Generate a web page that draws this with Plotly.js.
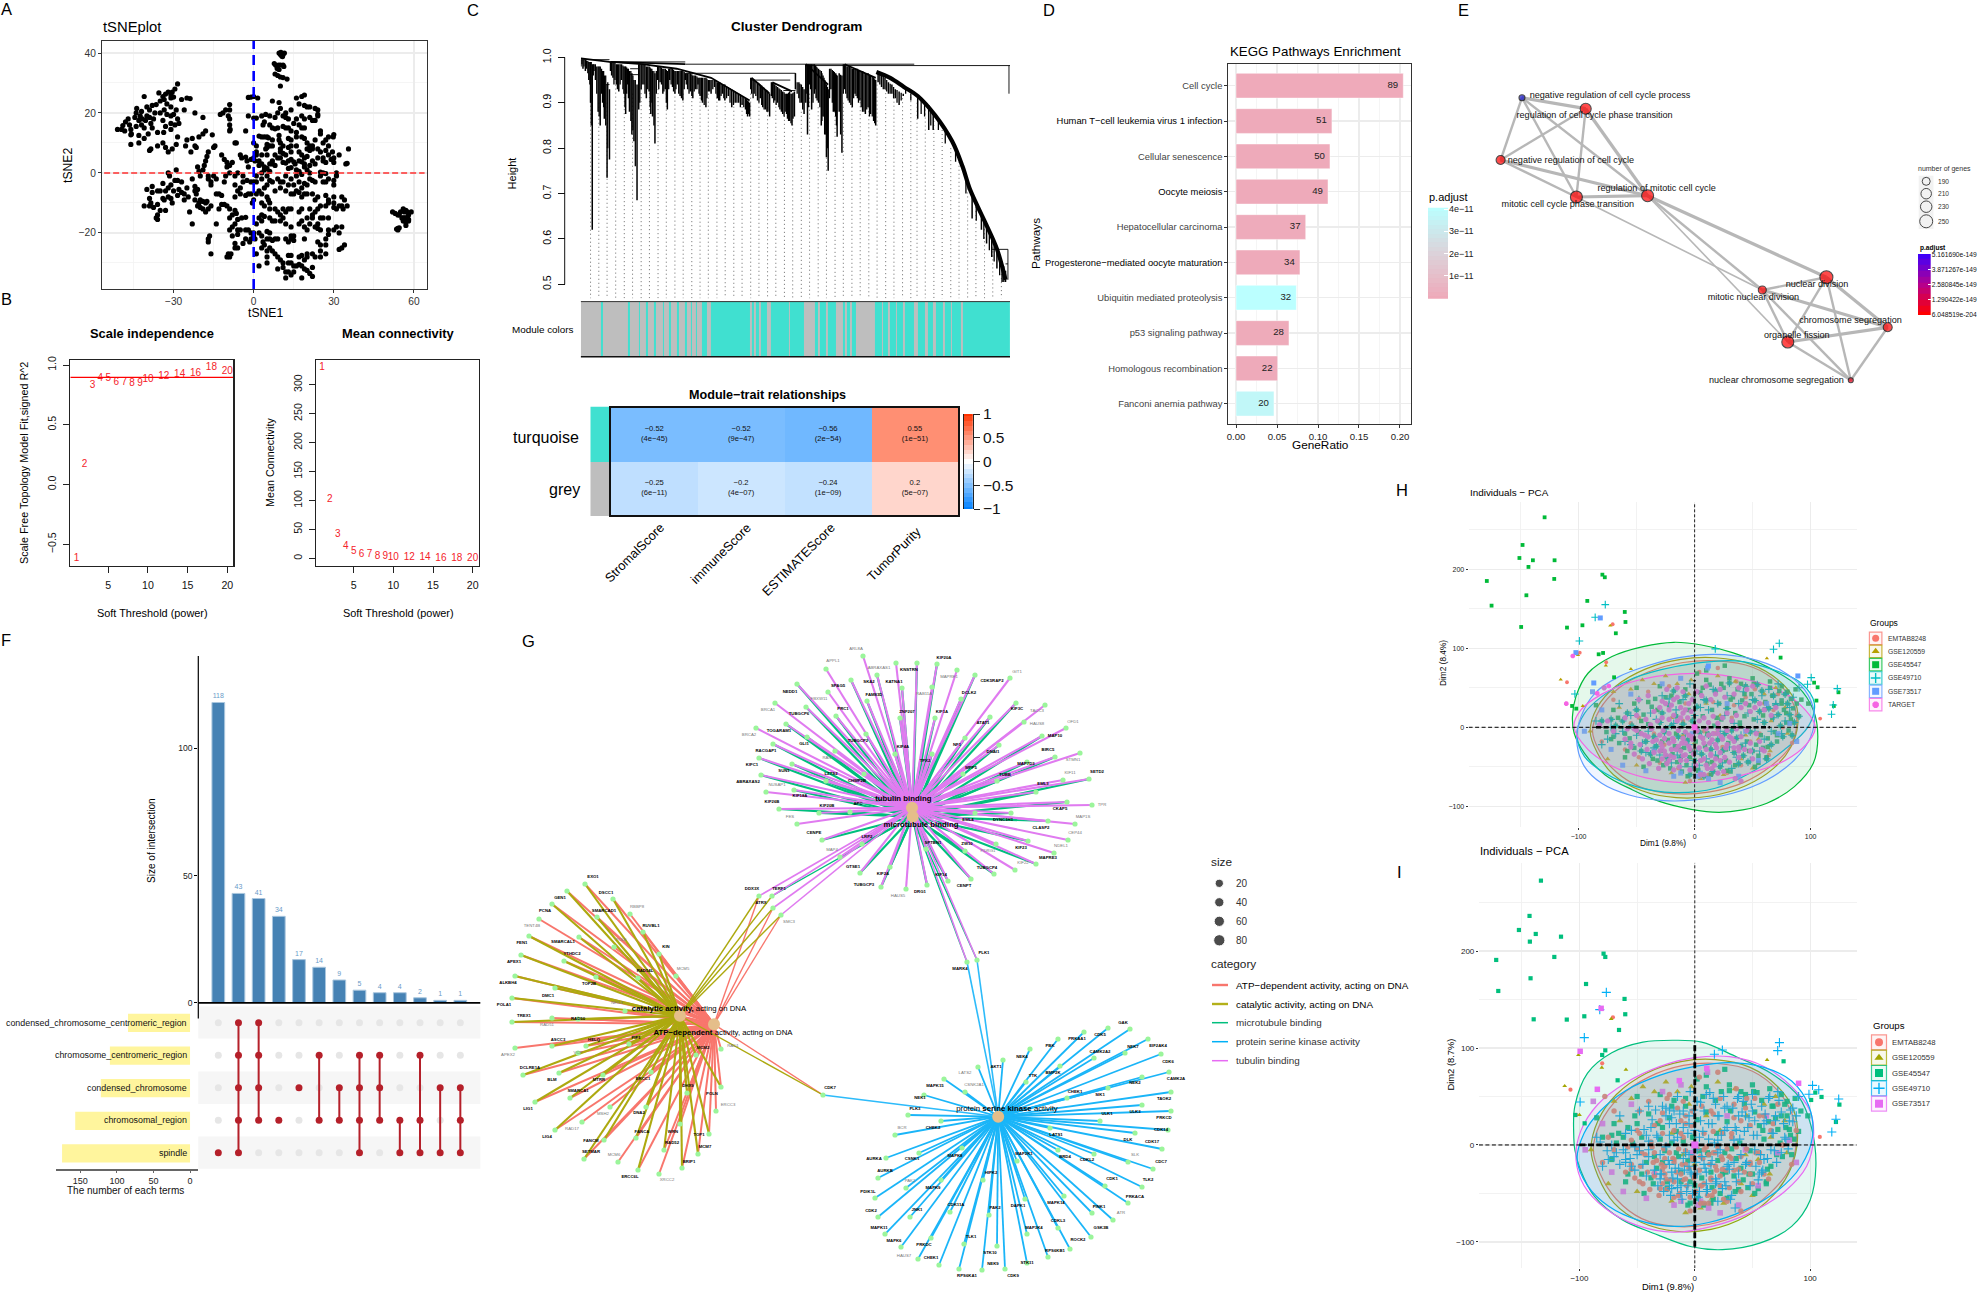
<!DOCTYPE html>
<html><head><meta charset="utf-8">
<script src="https://cdn.plot.ly/plotly-3.0.1.min.js"></script>
<style>html,body{margin:0;padding:0;background:#fff}#c{width:1980px;height:1292px}</style></head>
<body><div id="c"></div>
<script>
// ---------- Panel A: tSNE (x,y pairs)
const tsnePoints=[9.5,40,10,39.5,10.5,39,11,39.5,11.5,40,10.2,40.2,10.8,38.8,7.7,36.5,8.2,36,8.8,35.5,9.3,36,10,36,11,36,11.3,35.5,8.8,34.8,9.5,34.5,8,33,9,32.5,10,32,11,31.8,12.5,31.3,10,29,
-51,14.5,-49.5,14.5,-49,15.8,-48,17,-47,18,-48.3,14,-46.5,16,-46,14.5,-45.8,13,-44,15.5,-44.5,18.5,-44,20,-43.8,21.5,-43,17.5,-42.5,19,-42,20.5,-41.7,18,-42,16,-41,15,-40.5,17.5,-40,19,-40,22,-39,21,-39,18.5,-38.5,16.5,-38,15,-37.5,18,-37,20,-41,25.5,-38,22.5,-36.5,22.8,-35,24,-35.5,26.7,-34,25.5,-33.5,24.5,-33,26.3,-32.5,23,-32,27,-31,26,-31,25,-30.5,27,-30,25.3,-29.5,28,-28.5,29.7,-31,22,-33.5,21,-35,20,-34,17.5,-32.5,19.5,-31,19,-30,19.5,-29,21,-33,15.5,-31,14.5,-31,16.5,-28.5,18,-29.5,16,-28,16.5,-27,24.5,-25,25,-23.8,24.8,-26,21,-22,20,-19,18.5,-36,13.5,-33.7,13.5,-39.5,13,-43,12.5,-46,12.7,-43,10,-46,9.5,-36,9,-34,10,-41,11.5,-33,8.5,-32,7,-30.5,8,-29,9.5,-28.5,12,-25.5,9,-23.5,7,-25,11,-23,11.5,-22,9,-21.5,8.5,-20.5,12,-19,13,-18,14,-15.5,12.7,-38.5,8,-39,7.5,
-12.5,19.5,-11.5,20,-10.5,21,-9,21,-9,22.8,-9.5,19,-9,18,-9,16,-8.8,14.5,-9,14,-7,10,-6.5,10,-14.5,9,-15,8.5,-17,7,-17.5,5.5,-18,4,-18.5,2.5,-19,1,-21,2,-20.5,.5,-20,-1,-12,6,-11,4.5,-10,3.5,-9,2.5,-8,3.5,-10,2,-9,0,-10.5,-1,-5,6,-4.5,5,-3,5.3,-2.5,4,-2,2,-6,0,-7,-1,-4,-1,
-40,-5.5,-38,-4.5,-38,-6.5,-36,-6,-35,-6,-33,-6,-34,-3.5,-32,-5,-31,-4,-30,-6,-29.5,-2.5,-28.5,-2.5,-28,-5.5,-27,-3,-27,-6.5,-26,-7,-25,-5,-24.5,-8,-31.5,-1,-32,0,-32,-8,-33.5,-9,-34,-8.5,-31,-8.5,-30.5,-10,-28.5,-7.5,-26,-9,-39,-8.5,-38.5,-10,-39,-11,-37.5,-11.5,-41,-11,-36,-10.5,-35,-12.5,-36,-14,-36.5,-15,-36,-15.5,-33,-12.5,-24,-13,-23,-17,-29,1,-23,-2,-22,-4.5,-21,-5.5,-22,-6,-21.5,-7,-20.5,-10,-22,-9,-21,-11,-20,-11.5,-20,-9,-19,-9.5,-19,-12,-18,-10,-18,-13,-17.5,-9.5,-17,-12,-16,-11,-17,-2,-16,-3,-17,-1,-16,-4,-15,-1,-14,-2,-14,-7,-13,-7,-12,-7.5,-13,-12,-12,-10.5,-11,-10.5,-10,-11,-9,-12,-8,-14,-7,-12.5,-6.5,-13.5,-6,-15.5,-4.5,-15,-3,-14.8,-11,-3,-7,-4,-6,-6,-7,-8,-5,-5,-5,-7,-4,-3,-3,-7.5,-2,-7,-1,-7,-2.5,-2.5,-1,-3,0,-3,1,-3,
-14,-17,-9,-15,-8,-18,-9,-19,-7,-17,-6,-19,-8,-21,-6,-20.5,-5,-19,-3,-19,-2,-19,-1,-20,0,-20,-1.5,-23,-1,-22,.5,-22,0,-21,-4,-23.5,-3,-22,-7,-23.5,-7,-25,-6,-25,-17,-22,-17,-23,-16.5,-21,-16,-27,-10,-28,-9,-28,-9.5,-27,-8.5,-27,
-2,25.2,-1,25.3,0,25.5,1.5,25,7,24,9.5,23.5,16,25,18,25.5,19,26,17,23,19,22.5,20,22,21,22,23,21.5,24,21,10,21.5,12,20,14,21,9,20,8,18.5,11,19,12,18.5,13,18,16,18,18,19,19,18,21,18.5,22,17.5,23,17.5,24,19.5,24,19,-2,19,0,18.3,1,18.3,3,19,4.5,19.5,6,19,4,17,3.5,16,6,16,7,15,8,14.7,9,15,11,15.5,12,15,13,15,15,16.5,17,16,18,15,19,15,14,14,16,13.5,
25,14,25,13,-3,14,2,12.3,3,12,4,12,5,12,5.5,11.7,7,11,9.5,12.5,9.5,11,10,10,13,11.5,14,11,16,12,18,12,19,11.5,20,10,23,11,22,9,21,9,28,12,30,12.8,29.8,12,27,11,26,10,24,8,22,8,21,7.5,20,8,16,9,14,9,13,8.5,11,9,10,8,0,10,1,9,5,9.5,5,8.5,6,9,7,9,4.5,8,1,7,8,6,10,7,11,6.5,12,6,9,5,10,5,14,7,17,7,18,6,19,5,20,5.5,25,7,27,7.5,28,9,29.5,7,32,6,35.5,8,28,6,30,5,24,5,26,5,1,6,3,6,5,6,7,4,
0,5,-1,4.5,.5,4,2,4,3,3,2,2.5,4,2,5,1.5,6,3,7,3,8,2.5,11,3.5,12,3.3,13,4,14,4.5,15,3.7,15.5,3,17,4,18,3.7,19,3,19,2,20,1,21,2.5,22,4,23,3,26,4,27,3.5,29,4.5,30,3.5,35,3.2,34.5,3,3,0,4,1,6,.5,13,1.5,14,1.8,16,1,17,.5,18,-.5,21,0,25,.3,26,0,27,-.2,31,0,
1,-1,3,-2,5,-1,6,-2.5,7,-3,5,-4,4,-5,2,-6,3,-7,9,-2,10,-3,11,-3,12,-1,13,-4,14,-2,15,-4,16,-1,17,-3,18,-5,19,-3.5,20,-4,21,-2,22,-2.5,23,-3,25,-1,26,-3,27,-3,28,-2,30,-2.5,31,-1,30,-4,10,-5,8,-6,12,-6,14,-7,15,-7,16,-6,17,-6.5,18,-8,19,-7,20,-7,22,-7,23,-9,24,-8,27,-7.5,28,-9,30,-8,33,-8,34,-9,28,-10,30,-10,32,-11,0,-9,-.5,-10,1,-7,5,-8,5.5,-9,6,-10,3,-10,
4,-11,6,-12,8,-12,9,-13,10,-14,11,-12,12,-13,13,-12,14,-12,17,-13,18,-12,21,-12,22,-14,23,-13,24,-12,25,-11,27,-11,30,-11.5,31,-12,33,-11,35,-11,33.5,-12,3,-14,3,-16,4,-14.5,2,-15,1,-17,6,-15,7,-16,8,-16,10,-16,11,-15,12,-17,18,-16,17,-17,20,-15,22,-15,24,-17,25,-15,26,-15,28,-15,23,-18,24,-18.5,25,-19,28,-19,30,-19,31,-18,33,-18,32,-20,19,-18,20,-19,21,-17,14,-18,15,-21,14,-21,
2,-20,3,-21,5,-19.5,6,-20,3.5,-23,4,-24,5,-22,6,-22,7,-22.5,8,-22,9,-22,12,-22,13,-23,14,-22,15,-22.5,19,-22,24,-23,25,-24,27,-22,28,-20.5,27,-24,25,-26,34,-24,33,-25,32,-25.5,3,-25,5,-26,6,-25,7,-26,8,-27,1,-27,5,-28,5,-30,2,-31,9,-28,10,-29,11,-30,13,-27.5,14,-27.5,17,-28,18,-27.5,19,-29,20,-28,20,-27,22,-27,23,-28,25,-28,27,-27,9,-32,11,-31.5,13,-30,14,-30,15,-31,16,-31,17,-30.5,18,-31,19,-32,22,-31.5,20,-32.5,21,-33.5,22,-34.5,12,-33,13,-33,14,-34,12,-35,15,-33,18,-35,
52,-13,53,-13.5,54,-14,54.5,-14,55,-13,56,-12,56.5,-13,57,-12.5,57.5,-13,58,-14,59,-13,55.5,-15,56,-15,56.5,-15,57,-15,57.5,-15,58,-15.5,56,-16,57,-16.5,58,-16,57,-17.5,54,-18.5,54.5,-18.3,54,-19,53.5,-18.7];

// ---------- Panel B
const powers=[1,2,3,4,5,6,7,8,9,10,12,14,16,18,20];
const scaleFit=[-.616,.17,.825,.889,.884,.856,.85,.847,.842,.881,.906,.923,.931,.981,.948];
const meanConn=[330,102,41.5,20.7,11.5,7,5.8,3.5,2.3,1.7,1.7,.8,.5,.4,.3];

// ---------- Panel C
const dendroLeaf=[322,328,335,345,350,355,360,372,378,385,390,398,405,408,415,425,432,440,447,452,458,463,470,476,485,490,497,505,512,520,525,530,537,545,552,560,567,573,580,588,595,602,610,618,625,632,640,647,655,662,668,675,685,692,700,710,718,725,733,740,750,760,770,780,790,800,806,812,818,825,835,843,850,858,865,870,878,885,893,900,908,915,922,928,935,942,945,955,962,970,975,980,985,992,1000,1005,1012,1020,1025,1030,1035,1040,1048,1055,1062,1066,1072,1080,1088,1095,1102,1110,1118,1125,1132,1140,1148,1156,1163,1172,1178,1185,1195,1205,1215,1225,1235,1246,1258,1300,1332,1345,1458,1485,1500,1515,1530,1545,1555];
const dendroTop=[.995,.995,.995,.99,.99,.985,.985,.98,.98,.97,.96,.94,.93,.99,.99,.985,.985,.985,.98,.98,.975,.97,.965,.95,.94,.985,.985,.985,.98,.98,.975,.97,.965,.98,.98,.975,.975,.97,.975,.975,.97,.97,.97,.97,.965,.965,.965,.96,.96,.955,.955,.955,.955,.95,.95,.95,.945,.945,.94,.94,.935,.93,.925,.92,.915,.91,.905,.9,.955,.95,.945,.94,.935,.93,.925,.92,.945,.94,.935,.93,.925,.92,.92,.925,.92,.925,.965,.945,.94,.93,.985,.985,.985,.985,.985,.98,.975,.97,.96,.95,.94,.93,.975,.97,.965,.96,.965,.96,.985,.98,.98,.975,.975,.975,.97,.97,.965,.965,.96,.955,.95,.965,.96,.955,.945,.94,.93,.925,.92,.915,.895,.88,.7,.655,.63,.605,.578,.55,.53];
const dendroBottom=[.98,.975,.97,.95,.9,.62,.97,.88,.85,.9,.865,.735,.775,.97,.955,.94,.925,.95,.92,.875,.94,.88,.83,.815,.685,.885,.93,.94,.91,.925,.875,.87,.81,.95,.945,.92,.93,.885,.95,.935,.92,.94,.915,.905,.95,.93,.925,.91,.93,.94,.915,.9,.89,.925,.92,.935,.91,.905,.92,.905,.915,.89,.9,.9,.895,.885,.87,.87,.92,.92,.905,.91,.89,.885,.88,.87,.91,.905,.9,.885,.875,.88,.865,.86,.85,.87,.93,.91,.9,.875,.9,.83,.94,.885,.92,.91,.9,.85,.87,.83,.78,.75,.93,.88,.87,.825,.88,.79,.93,.91,.9,.89,.92,.91,.905,.88,.875,.89,.875,.86,.85,.945,.935,.93,.92,.92,.91,.895,.915,.865,.84,.84,.645,.62,.59,.56,.535,.505,.505];
// finer branches: leaf, top height, bottom height
const dendroHairs=[325,.995,.985,331,.995,.98,338,.993,.975,342,.992,.965,348,.99,.94,352,.99,.85,358,.985,.96,364,.985,.95,368,.98,.92,375,.98,.87,382,.975,.92,388,.97,.89,394,.96,.85,400,.945,.8,411,.99,.96,418,.99,.94,421,.988,.95,428,.985,.93,436,.985,.94,444,.982,.93,450,.98,.89,455,.978,.92,460,.975,.91,467,.97,.86,473,.96,.84,480,.95,.76,493,.985,.9,500,.985,.94,508,.983,.92,516,.98,.93,523,.978,.89,528,.975,.9,534,.97,.85,541,.97,.92,548,.98,.93,556,.978,.94,563,.975,.925,570,.972,.9,577,.975,.93,584,.975,.94,591,.972,.925,598,.97,.93,606,.97,.92,614,.97,.91,622,.968,.93,628,.965,.94,636,.965,.92,644,.963,.915,651,.96,.925,659,.958,.93,665,.955,.92,672,.955,.905,680,.955,.895,688,.953,.91,696,.95,.925,705,.95,.93,714,.948,.92,722,.945,.905,729,.943,.915,737,.94,.91,745,.937,.91,755,.932,.9,765,.928,.895,775,.922,.9,785,.918,.89,795,.912,.89,803,.908,.875,809,.903,.875,815,.955,.93,822,.952,.91,830,.948,.915,839,.943,.9,847,.938,.895,854,.933,.885,862,.928,.88,875,.945,.915,882,.942,.9,889,.937,.895,897,.932,.89,904,.928,.88,912,.923,.87,919,.92,.875,925,.922,.86,932,.92,.855,938,.922,.865,950,.945,.92,958,.942,.9,966,.935,.885,978,.985,.92,983,.985,.89,989,.985,.93,996,.985,.9,1003,.982,.93,1008,.978,.905,1016,.972,.89,1022,.965,.86,1028,.955,.87,1033,.945,.83,1038,.935,.8,1044,.975,.91,1052,.972,.9,1058,.968,.88,1064,.962,.85,1076,.962,.83,1084,.985,.92,1091,.982,.92,1098,.98,.905,1106,.978,.895,1114,.975,.91,1121,.975,.915,1128,.972,.9,1136,.97,.89,1144,.968,.88,1152,.965,.885,1160,.962,.87,1168,.958,.87,1175,.952,.855,1190,.962,.94,1200,.958,.93,1210,.95,.925,1220,.942,.92,1230,.935,.91,1240,.928,.9,1252,.922,.905,1265,.93,.92,1280,.92,.905,1310,.905,.875,1320,.895,.87,1338,.885,.85,1360,.865,.84,1380,.84,.81,1410,.8,.77,1440,.735,.7,1470,.68,.64,1492,.64,.6,1508,.615,.575,1522,.59,.55,1538,.565,.52,1550,.54,.505];
const spineLeaf=[1180,1220,1260,1300,1350,1400,1430,1450,1475,1500,1530,1555];
const spineHeight=[.968,.955,.935,.915,.873,.815,.76,.713,.67,.63,.578,.51];
const massLeafA=[408,500,600,700,812], massHeightA=[.99,.985,.975,.955,.905];
const massLeafB=[322,405,625], massHeightB=[.998,.99,.985];
const massLeafC=[818,870], massHeightC=[.955,.92];
const massLeafD=[878,935], massHeightD=[.945,.925];
const massLeafE=[975,1040], massHeightE=[.985,.94];
const massLeafF=[1088,1178], massHeightF=[.985,.955];
const mergeFrom=[322,405,625,975,625,815,910,465,465,1515,1555,395,1562,1565,945];
const mergeTo=[405,625,1290,1568,945,930,945,490,490,1562,1562,405,1562,1565,945];
const mergeHeightA=[.995,.99,.985,.982,.965,.95,.927,.962,.975,.577,.545,.94,.577,.982,.965];
const mergeHeightB=[.995,.99,.985,.982,.965,.95,.927,.962,.975,.577,.545,.94,.51,.92,.93];
const dottedLeaf=[350,374,398,423,448,472,497,521,546,570,595,619,644,668,692,717,741,766,790,815,839,864,888,913,937,962,986,1011,1035,1060,1084,1109,1133,1158,1182,1207,1231,1256,1280,1298,1322,1347,1371,1396,1420,1445,1469,1494,1518,1543];
const dottedTop=[.92,.9,.9,.94,.93,.92,.93,.93,.93,.92,.94,.92,.93,.92,.92,.92,.91,.9,.9,.92,.9,.89,.9,.88,.87,.88,.92,.89,.92,.88,.9,.9,.91,.89,.94,.93,.92,.91,.93,.9,.885,.86,.84,.8,.77,.72,.67,.63,.59,.54];
const moduleEdges=[322,380,385,458,465,490,493,512,516,535,540,560,563,578,582,600,606,625,629,640,645,655,660,673,688,700,812,818,825,830,838,845,862,874,925,928,970,1002,1010,1016,1032,1040,1062,1082,1088,1094,1104,1108,1120,1176,1196,1199,1214,1218,1236,1240,1258,1262,1290,1300,1320,1330,1345,1352,1372,1378,1396,1400,1425,1432,1568];
const traitCols=['StromalScore','immuneScore','ESTIMATEScore','TumorPurity'];
const traitCorr=[[-.52,-.52,-.56,.55],[-.25,-.2,-.24,.2]];
const traitCorrText=[['−0.52','−0.52','−0.56','0.55'],['−0.25','−0.2','−0.24','0.2']];
const traitPText=[['(4e−45)','(9e−47)','(2e−54)','(1e−51)'],['(6e−11)','(4e−07)','(1e−09)','(5e−07)']];
const corrLevels=[-1,-.9,-.8,-.7,-.6,-.5,-.4,-.3,-.2,-.1,0,.1,.2,.3,.4,.5,.6,.7,.8,.9,1];

// ---------- Panel D
const pathways=['Cell cycle','<span style="color:#000">Human T−cell leukemia virus 1 infection</span>','Cellular senescence','<span style="color:#000">Oocyte meiosis</span>','Hepatocellular carcinoma','<span style="color:#000">Progesterone−mediated oocyte maturation</span>','Ubiquitin mediated proteolysis','p53 signaling pathway','Homologous recombination','Fanconi anemia pathway'];
const geneRatio=[.204,.117,.1146,.1122,.085,.078,.0736,.0646,.0508,.0463];
const geneCount=[89,51,50,49,37,34,32,28,22,20];
const pAdjust=[.05,.06,.06,.07,.12,.07,4.05,.08,.06,3.7];
const padjLevels=[0,.2,.4,.6,.8,1,1.2,1.4,1.6,1.8,2,2.2,2.4,2.6,2.8,3,3.2,3.4,3.6,3.8,4,4.06];

// ---------- Panel E
const enrichTerms=['negative regulation of cell cycle process','regulation of cell cycle phase transition','negative regulation of cell cycle','mitotic cell cycle phase transition','regulation of mitotic cell cycle','mitotic nuclear division','nuclear division','chromosome segregation','organelle fission','nuclear chromosome segregation'];
const enrichX=[1522,1585.7,1500.6,1576.4,1647.6,1762.3,1826.4,1887.7,1787.8,1850.8];
const enrichY=[97.7,108.7,160,197,195.7,290,277.3,327.3,342,380.3];
const enrichLabelX=[1610,1594.6,1570.9,1567.8,1656.6,1753.4,1817,1850.5,1796.8,1776.4];
const enrichLabelY=[96,116,160.7,204.7,188.7,297.7,284.7,320.7,335.7,380.7];
const enrichSize=[6,11,9,12,12,8,13,9,12,5];
const enrichColor=['#1010c8','#f00','#f00','#f00','#f00','#f00','#f00','#f00','#f00','#e8001a'];
const edgesThick=[[0,1],[1,4],[3,4],[4,6],[5,7],[6,7],[7,8],[2,4]];
const edgesMedium=[[0,2],[0,4],[1,2],[1,3],[2,3],[0,3],[4,5],[5,6],[5,8],[5,9],[6,8],[6,9],[8,9],[7,9]];
const edgesThin=[[3,5],[4,8]];
const geneLegendCounts=['190','210','230','250'], geneLegendSize=[8,10.5,11.5,13];
const padjE=['5.161690e-149','3.871267e-149','2.580845e-149','1.290422e-149','6.048519e-204'];
const padjEVals=[5.16,3.87,2.58,1.29,0];
const padjELevels=[0,.5,1,1.5,2,2.5,3,3.5,4,4.5,5,5.2];

// ---------- Panel F
const upsetSize=[118,43,41,34,17,14,9,5,4,4,2,1,1];
const upsetSets=[[4],[0,1,2,3,4],[0,1,2,3],[3],[2],[1,3],[2,3],[1,2,3,4],[1,2,3],[3,4],[1,3,4],[2,4],[2,3,4]];
const setNames=['condensed_chromosome_centromeric_region','chromosome_centromeric_region','condensed_chromosome','chromosomal_region','spindle'];
const setTotals=[84.8,109.6,122,157,175];

// ---------- Panel G (layout positions in a shared plane)
const hubNames=['<b>tubulin binding</b>','<b>microtubule binding</b>','<b>catalytic activity,</b> acting on DNA','<b>ATP−dependent</b> activity, acting on DNA','protein <b>serine kinase</b> activity'];
const hubX=[912,912.7,680,714,998.2], hubY=[807.7,816.7,1015.7,1024.3,1116.7];
const hubLabelX=[903.3,921,689,723,1007], hubLabelY=[799,825,1009,1033,1109];
const tubNames=['ARL8A','APPL1','ABRAXAS1','KIF20A','KNSTRN','KATNA1','MAPRE1','CDK5RAP2','SPAG5','SKA2','NEDD1','FBXW11','FAM83D','RAB11A','DCLK2','BRCA1','TUBGCP6','PRC1','ZNF207','KIF1A','ATAT1','BRCA2','TOGARAM1','TUBGCP2','GLI1','NF1','RACGAP1','RAN','KIF4A','TPX2','KIFC1','SUN1','MPP5','LZTS2','CHMP2B','ABRAXAS2','NUSAP1','KIF18A','KIF26B','KIF20B','APC','FES','CENPE','LRP2','MAP4','GTSE1','KIF2A','TUBGCP3','HAUS5','DRG1','KIF14','CENPT','TUBGCP4','ZW10','PDRG1','SPTBN1','EML4','DNAI1','GIT1','KIF3C','TACC3','HAUS8','OFD1','MAP10','BIRC5','STMN1','MAP7D3','KIF11','SETD2','EML3','CKAP5','TPR','MAP1S','CLASP2','DYNC1H1','CEP44','KIF23','NDEL1','MAPRE3','KIF22','TUBB'];
const tubX=[863,826,896,937,917,902,957,975,851,877,797,828,867,932,961,775,806,836,900,935,990,756,786,866,807,965,773,835,895,932,759,792,963,826,864,761,766,794,779,819,850,797,822,862,840,860,890,881,906,927,948,971,994,965,996,926,975,999,1010,1016,1045,1024,1066,1042,1055,1080,1027,1063,1089,1036,1067,1092,1075,1048,1011,1068,1028,1054,1036,1015,997];
const tubY=[656,669,663,664,663,688,670,675,680,675,684,692,701,687,699,703,707,716,718,718,717,728,724,734,737,738,744,751,754,754,758,764,774,781,774,775,792,790,809,813,812,824,840,844,857,873,867,887,889,885,881,879,874,851,844,849,813,745,678,703,705,722,728,736,757,753,762,780,779,792,802,805,824,821,813,840,841,853,864,870,781];
const tubLX=[856,833,879,944,909,894,949,992,838,869,790,819,874,924,969,768,799,843,907,942,983,749,779,858,804,957,766,827,903,925,752,784,971,831,857,748,777,800,772,827,858,790,814,867,832,853,883,864,898,920,941,964,987,967,988,933,968,993,1017,1017,1037,1037,1073,1055,1048,1073,1026,1070,1097,1043,1060,1102,1083,1041,1003,1075,1021,1061,1048,1023,1005];
const tubLY=[649,661,668,658,670,682,677,681,686,682,692,699,695,694,693,710,714,709,712,712,723,735,731,741,744,745,751,758,747,761,765,771,768,774,781,782,785,796,802,806,804,817,833,837,850,867,874,885,896,892,875,886,868,844,851,843,820,752,672,709,711,724,722,736,750,760,764,773,772,784,809,805,817,828,820,833,848,846,858,863,775];
const tubCat='tttbbbtbbbbtbtbtbbbbbtbbbbbtbbbbbbbbtbbbbtbbtbbbtbbbbbtbbbtbtttbbtbtbbbttbbtbtbtb';
const catNames=['EXO1','GEN1','DSCC1','PCNA','RBBP8','SMARCAD1','RUVBL1','TENT4B','FEN1','SMARCAL1','POLE','KIN','APEX1','YTHDC2','MCM5','RAD54L','ALKBH4','TOP2B','DMC1','POLA1','NEIL3','TREX1','RAD51','RAD50','APEX2','ASCC3','HELQ','PIF1','MCM2','RAD1','DCLRE1A','VCP','BLM','MTRR','ERCC1','POLN','SMARCA1','LIG1','DHX9','ERCC3','MSH2','DNA2','RAD17','LIG4','WRN','FANCA','FANCM','TOP1','MCM7','RAD52','SETMAR','MCM6','ERCC6L','XRCC2','BRIP1'];
const catX=[585,567,613,552,630,597,643,539,529,579,614,659,521,564,676,638,515,596,555,512,625,512,552,578,515,552,586,629,696,721,523,578,559,603,651,721,570,535,687,716,610,646,582,555,680,636,604,709,698,664,584,618,638,659,682];
const catY=[884,891,899,904,914,917,932,919,936,937,947,954,955,961,976,978,976,977,988,998,1011,1022,1018,1019,1048,1046,1046,1044,1055,1049,1075,1053,1073,1075,1072,1087,1098,1102,1093,1111,1107,1107,1122,1130,1124,1138,1140,1134,1154,1150,1159,1162,1170,1174,1168];
const catLX=[593,560,606,545,637,604,651,532,522,563,621,666,514,572,683,645,508,589,548,504,617,524,547,578,508,558,594,636,703,733,530,578,552,599,643,712,578,528,688,728,603,639,572,547,673,642,591,699,705,672,591,614,630,667,689];
const catLY=[877,898,893,911,907,911,926,926,943,942,940,947,962,954,969,971,983,984,996,1005,1003,1016,1025,1019,1055,1040,1040,1038,1048,1046,1068,1053,1080,1080,1079,1094,1091,1109,1086,1105,1114,1113,1129,1137,1132,1132,1141,1135,1147,1143,1152,1155,1177,1180,1162];
const catCat='bbbbabbabbabbbabbbbbabababbbbababbbbbbbaababbbbbbbbabab';
const kinNames=['GAK','CDK5','PRKAA1','PBK','NEK4','EIF2AK4','NEK7','CDK6','CAMK2A2','BMP2K','CAMK2A','NEK2','LATS2','AKT1','TTK','MAPK15','CSNK2A1','TAOK2','CHEK1','SIK1','NEK1','PLK3','ULK3','PRKCD','ULK1','CHEK2','BCR','LATS1','CDK14','CDK17','DLK','AURKA','CSNK1','MAPK8','MAP2K1','CDKL2','BRD4','SLK','CDC7','AURKB','MAPK9','HIPK2','CDK1','TLK2','PAK1','PDIK1L','PRKACA','MAPK14','DAPK1','CDK11A','PAK2','PINK1','ATR','CDK2','JNK1','CDKL3','GSK3B','MAPK11','MAP3K4','ROCK2','MAPK6','PRKDC','TLK1','CHEK1','STK10','RPS6KB1','STK11','NEK9','CDK9','RPS6KA1','HAUS7'];
const kinX=[1130,1108,1084,1058,1030,1148,1125,1161,1094,1060,1169,1142,978,1003,1026,944,965,1171,1067,1108,924,908,1142,1171,1100,941,895,1050,1168,1162,1135,886,919,962,1017,1094,1058,1128,1153,878,941,983,1105,1142,906,875,1128,1064,1025,950,989,1092,1113,878,910,1058,1091,885,1027,1070,901,931,964,918,997,1048,1027,982,1005,959,939];
const kinY=[1029,1028,1032,1039,1049,1039,1053,1054,1058,1066,1072,1077,1067,1060,1082,1079,1092,1092,1098,1088,1095,1115,1105,1111,1121,1121,1135,1128,1130,1149,1133,1158,1153,1148,1161,1154,1150,1162,1169,1178,1180,1180,1186,1187,1188,1198,1203,1196,1199,1212,1215,1213,1220,1217,1217,1228,1237,1234,1234,1249,1247,1238,1244,1259,1246,1257,1263,1270,1269,1269,1265];
const kinLX=[1123,1100,1077,1050,1022,1158,1133,1168,1100,1053,1176,1135,965,996,1033,935,974,1164,1075,1100,920,915,1135,1164,1107,933,902,1056,1161,1152,1128,874,912,955,1024,1087,1065,1135,1161,885,933,991,1112,1148,910,868,1135,1056,1018,956,995,1099,1121,871,917,1058,1101,879,1034,1078,894,924,971,931,990,1055,1027,993,1013,967,904];
const kinLY=[1023,1035,1039,1046,1057,1046,1047,1062,1052,1073,1079,1083,1073,1067,1076,1086,1085,1099,1092,1095,1098,1109,1112,1118,1114,1128,1128,1135,1130,1142,1140,1159,1159,1156,1154,1160,1157,1155,1162,1171,1188,1173,1179,1180,1181,1192,1197,1203,1206,1205,1208,1207,1213,1211,1210,1221,1228,1228,1228,1240,1241,1245,1237,1258,1253,1251,1263,1264,1276,1276,1256];
const kinGrey=[12,16,26,37,44,52,70];
const linkNames=['DDX3X','TERF1','ATRX','SMC3','PLK1','MARK4','CDK7'];
const linkX=[759,772,773,781,977,967,823], linkY=[896,896,908,915,960,962,1095];
const linkLX=[752,779,761,789,984,960,830], linkLY=[889,889,903,922,953,969,1088];
const linkHubs=[[0,2,3],[0,1,2],[0,2,3],[0,2,3],[0,1,4],[0,1,4],[2,3,4]];
const catColors=['#E76BF3','#00BF7D','#A3A500','#F8766D','#00B0F6'];
const legendCatNames=['ATP−dependent activity, acting on DNA','catalytic activity, acting on DNA','microtubule binding','protein serine kinase activity','tubulin binding'];
const legendCatColors=['#F8766D','#B3B01A','#00BF7D','#00B0F6','#E76BF3'];
const legendSizes=['20','40','60','80'], legendSizePx=[8.3,9.3,10.3,11.3];

// ---------- Panels H and I
const groupH=['EMTAB8248','GSE120559','GSE45547','GSE49710','GSE73517','TARGET'];
const colorH=['#F8766D','#B79F00','#00BA38','#00BFC4','#619CFF','#F564E3'];
const symbolH=['circle','triangle-up','square','cross-thin','square','octagon'];
const colorI=['#F8766D','#A3A500','#00BF7D','#00B0F6','#E76BF3'];
const cloudCircle=[-80,-18,-70,35,-60,-28,-55,5,-48,-38,-40,45,-35,-8,-30,-45,-22,52,-18,-15,-14,-52,-8,30,-4,-68,0,-30,4,70,8,-5,12,-60,16,32,20,75,24,-25,28,-58,32,12,36,58,40,-48,44,38,48,-18,52,48,56,-8,60,30,64,-35,68,22,72,42,76,0,84,-20,88,15,-48,12,-26,-22,-10,8,6,-42,18,-8,34,28];
const cloudTriangle=[-90,-5,-75,-40,-70,45,-55,48,-50,-48,-45,60,-35,55,-25,65,-20,-58,-15,55,-8,-70,-3,60,-10,-10,-5,42,5,-65,10,30,15,-55,20,65,25,-60,30,-12,35,58,40,-40,45,30,50,-52,55,-15,60,42,65,-30,70,50,78,25,80,-8,85,5,-65,25,-35,-28,-20,12,0,-20,22,15,44,-10,66,8];
const cloudSquare=[-85,28,-72,-15,-66,12,-58,-30,-52,30,-46,8,-40,32,-36,-40,-32,22,-28,-18,-24,-45,-20,40,-16,-8,-12,-28,-8,48,-4,-38,-1,8,3,-55,7,50,11,-8,15,-44,19,12,23,55,27,-28,31,35,35,-48,39,2,43,42,47,-30,51,55,55,-45,59,15,63,-25,67,40,71,-10,75,30,79,18,83,10,87,48,92,35,98,30,30,62,50,62,65,58,75,52,80,45,-60,-38,-44,-50,2,68,10,72,26,78,-6,-62,14,-60,28,-55,52,-50,62,-38,-70,22,-50,50,-30,52,10,60,40,55];
const cloudCross=[-72,0,-68,-8,-62,-5,-60,-18,-55,-22,-50,-10,-45,-20,-40,-5,-38,18,-35,-26,-30,-35,-28,40,-25,-2,-22,36,-20,-45,-18,5,-15,-35,-12,-50,-10,35,-8,-8,-6,-42,-4,55,-2,-50,0,15,2,-30,4,-48,6,-12,8,35,10,-40,12,22,14,-20,16,48,18,-35,20,30,22,-5,24,-45,26,15,28,40,30,-25,32,-52,34,5,36,-38,38,30,40,-10,42,45,44,-20,46,18,48,-42,50,35,52,-5,54,10,56,-30,58,40,60,-15,62,25,64,48,66,-5,68,12,70,30,72,55,75,-8,78,8,82,25,85,38,90,50,-65,30,-80,-22,-85,8,-75,-15,-55,15,-48,35,-42,-32,-33,10,-16,22,-5,-22,5,25];
const cloudBlue=[-95,-5,-80,22,-72,-28,-62,-48,-55,42,-42,-55,-28,55,-18,-62,-12,62,-2,-8,5,-58,11,75,22,-70,28,30,38,-62,44,-5,55,-42,62,30,72,-8,82,5,88,-18,-88,45,-35,-30,-12,-58,3,-62,12,-65];
const cloudCentre=[-28,33,-25,30,-30,25,-22,22,-35,20,-18,35,-15,38,-20,28,-12,25,-10,18,-8,22,-5,30,-3,20,-6,12,-12,12,-15,8,-18,15,-22,10,-28,12,-32,8,-38,3,-42,10,-50,15,-52,-2,-46,-8,-40,-12,-36,-18,-30,-10,-26,-14,-22,-20,-28,-25,-30,-30,-25,-35,-20,-28,-18,-18,-14,-24,-12,-30,-10,-14,-8,-20,-5,-10,-2,-15,-4,-28,-8,-35,-12,-42,-18,-38,-22,-42,-28,-40,2,-5,5,-12,8,-20,12,-10,15,-16,18,-22,20,-8,24,-15,28,-22,30,-12,34,-18,38,-25,10,-28,14,-34,18,-40,22,-32,26,-38,5,-42,10,-48,15,-52,20,-58,8,-60,35,-65,40,-68,38,-30,48,-30,58,-28,-55,-25,-60,-15,-70,-5,-82,3,-75,8,4,8,8,12,12,6,16,14,20,5,24,12,28,18,32,8,36,15,40,25,44,30,48,20,52,25,56,30,60,22,66,15,70,25,-2,35,2,45,6,40,10,52,14,35,18,42,22,48,26,38,34,42,38,50,45,48,50,52,-10,45,-15,50,-24,48,-40,40,-48,35,-60,12,-78,50];
const cloudDense=[-80,8,-76,-6,-72,10,-70,-12,-68,2,-65,-20,-62,8,-60,-8,-58,18,-56,-14,-54,2,-52,-26,-50,22,-48,-6,-46,-30,-44,16,-42,-18,-40,4,-38,-34,-37,26,-35,-12,-34,36,-33,-24,-32,-42,-30,6,-29,-30,-28,18,-27,-48,-26,-6,-25,38,-24,-38,-23,-16,-22,28,-21,-52,-20,2,-19,-34,-18,46,-17,-24,-16,14,-15,-44,-14,-12,-13,32,-12,-38,-11,-56,-10,4,-9,-26,-8,40,-7,-48,-6,-16,-5,22,-4,-60,-3,-30,-2,8,-1,36,0,-42,1,-18,2,26,3,-54,4,-6,5,44,6,-34,7,14,8,-62,9,-24,10,34,11,-46,12,-10,13,54,14,-28,15,22,16,-56,17,2,18,46,19,-38,20,-16,21,30,22,-50,23,10,24,-30,25,50,26,-8,27,-42,28,24,29,-20,30,56,31,-56,32,-4,33,38,34,-32,35,18,36,-14,37,48,38,-46,39,6,40,-24,41,34,42,-36,43,14,44,52,45,-18,46,-44,47,28,48,-6,49,42,50,-30,51,10,52,34,53,-22,54,54,55,-36,56,20,57,-10,58,46,59,-26,60,6,61,32,62,-40,63,-14,64,24,65,50,66,-22,67,12,68,40,69,-6,70,28,71,-18,72,16,73,46,74,2,75,34,76,-12,77,22,78,42,79,6,80,30,81,-4,82,16,83,36,84,-10,85,24,86,6,88,30,90,14];
const cloudCore=[-58,-2,-55,-20,-52,-34,-50,-4,-47,-22,-45,-40,-43,-10,-41,-28,-39,-46,-37,-2,-35,-32,-33,-16,-31,-52,-29,-20,-27,-4,-26,-30,-24,-46,-22,-8,-21,-36,-19,-14,-18,-54,-16,-28,-14,-4,-13,-50,-11,-20,-10,-36,-8,-6,-7,-42,-5,-24,-4,-54,-2,-12,-1,-34,1,-48,2,-4,4,-26,5,-60,7,-14,8,-40,10,-2,11,-52,13,-20,14,-36,16,-8,17,-48,19,-26,20,-2,22,-42,23,-12,25,-56,27,-26,28,-4,30,-44,32,-14,34,-26,36,-2,38,-38,40,-12,43,-28,45,-4,48,-20,50,-40,53,-8,56,-18,60,-30];
const outH=[[-70.6,130.4,-99,94.5,-110,57,108.2,11,-76.2,82.3],[-72.7,128.7,-100.5,91.6,-115.4,60.3,-76.5,78,-54.9,73.8,62.3,87.3,-96.4,27],[-129.3,265.8,-148.3,230.8,-151,214.3,-139.4,211.4,-120.7,211.4,-143.2,203,-179.1,185.2,-121,187.8,-79.5,193.2,-77.4,189.9,-145,167.1,-175,154,-92.5,160,-60.2,146,-149.5,127,-110,126.2,-96.7,129.1,-59.6,133.3,-67.9,119,-82.7,92.4,-78.9,94.1,-69.4,63.3,74.1,88.2,106,50.6,103,56.5,105,33.8,124,44.3,120,27,-105.6,27,-102,23.6],[-77,155.3,-85.7,139.2,-99.3,109.3,73,106.3,68,98.7,17.8,99.2,123,49,119.5,28.3,118,16.5,100.5,62.9,97.3,54.4,-103.2,42.2],[-81.3,138.4,-102.3,94.5,-86.9,56.1,89,65,11.9,77.6],[-105,90.3,-110.6,30,-84,43,-74,52.3]];
const outI=[[-71,131.7,-99.4,96.6,-107.8,57,108.4,8.3,-80.3,84.2,-103,31],[-72.5,130,-100.9,92.8,-112.8,60.8,-80.6,79.8,-59.7,77.7,62.7,87.7,-100,31],[-133.4,272.6,-143.3,236.2,-152.5,221.7,-137.9,217.6,-116,214.8,-143,209.7,-172.2,190.8,-121.8,193.9,-79.1,197.3,-77.6,193.9,-142.4,171.9,-170.4,158.8,-94.3,166,-60.9,150.6,-139.7,129.6,-111,129.3,-95.8,132.7,-60.3,134.8,-65.7,118.6,-80.3,92.8,-77.6,97.6,-66.9,66.7,77,86.3,104.5,54,109.9,49.5,125.4,41.6,122.4,23.7,100.9,46.4,-103.6,30.9,-95.5,22.3],[-76.7,157.4,-82.4,139.6,-95.8,110.7,73.4,105.5,71.9,97.3,17,93.5,23.9,98,124.8,47.4,122.4,26.5,118.8,13.4,102.1,61.5,107.5,57,99,52.3,-99.4,44.3],[-81.2,140.9,-99.4,96.6,-84.5,57.4,10.4,79,90,63.6,-13.4,66.3]];
const ringSalmon=[-88,-5,-82,22,-65,50,-40,70,-10,82,20,84,50,76,72,56,85,30,88,3,82,-25,65,-50,42,-70,12,-82,-18,-84,-46,-76,-68,-56,-82,-30];
const ringGold=[-90,-5,-84,25,-68,52,-42,74,-12,86,18,88,48,80,72,60,86,35,89,5,83,-25,68,-52,44,-74,14,-87,-16,-89,-46,-80,-70,-60,-84,-32];
const ringGreenH=[-105.3,13.5,-102.3,38.8,-91.9,68.4,-71.2,89.5,-44.5,102.1,-17.8,107.6,5.9,104.2,32.6,94.5,62.3,76.8,89,51.5,102.3,21.9,106.2,-11.8,102.3,-45.6,86,-75.1,62.3,-96.2,41.5,-104.6,20.8,-107.6,-3,-103.8,-29.7,-94.1,-53.4,-79.3,-77.1,-60.3,-94.9,-32.9,-103.8,-7.6];
const ringCyanH=[-101.4,-7.6,-94.9,17.7,-80.1,38.8,-56.3,59.9,-29.7,72.6,0,81,35.6,84,68.2,72.6,91.9,55.7,103.2,30.4,97.9,.8,77.1,-28.7,47.4,-58.2,17.8,-77.2,-17.8,-82.7,-50.4,-75.1,-77.1,-58.2,-94.9,-37.1];
const ringBlueH=[-101.7,-16,-97.9,13.5,-86,43,-65.2,64.1,-38.6,78.9,-11.9,88.6,17.8,92.4,47.4,87.3,74.1,72.6,94.9,47.3,103.2,17.7,100.2,-11.8,86,-41.4,62.3,-66.7,32.6,-83.5,0,-92,-26.7,-92.8,-56.3,-85.7,-80.1,-70.9,-94.9,-49.8];
const ringMagentaH=[-104,1,-98,22,-80,42,-55,57,-25,66,8,68,40,62,68,50,90,30,104,0,96,-22,78,-42,50,-57,20,-67,-10,-70,-42,-64,-70,-50,-92,-28];
const ringGreenI=[-105,12,-104,40,-93,74,-72,95,-45,106,-18,108,6,106,36,91,66,74,90,50,101,19,105,-22,100,-57,84,-84,57,-101,24,-108,-3,-105,-36,-91,-63,-77,-87,-53,-99,-26,-104,-5];
const ringCyanI=[-102,-15,-96,12,-82,35,-60,56,-30,72,0,81,30,85,60,80,84,66,99,40,102,8,92,-22,72,-47,42,-68,12,-80,-18,-84,-48,-78,-75,-63,-93,-42];
const ringMagentaI=[-103,-15,-99,14,-84,42,-60,64,-30,81,0,90,30,91,60,81,84,60,100,35,103,8,97,-22,78,-48,48,-70,15,-84,-18,-90,-50,-83,-78,-65,-96,-42];

// ---------- helpers
const W=1980,H=1292,FONT='"Liberation Sans",Arial,sans-serif';
const xs=a=>a.filter((_,i)=>i%2===0), ys=a=>a.filter((_,i)=>i%2===1);
const layout={width:W,height:H,margin:{l:0,r:0,t:0,b:0},paper_bgcolor:'#fff',plot_bgcolor:'rgba(0,0,0,0)',showlegend:false,font:{family:FONT,color:'#000'},annotations:[],shapes:[],hovermode:false};
const data=[];
function ax(n,x0,y0,x1,y1,xr,yr,xo,yo){
 layout['xaxis'+n]=Object.assign({domain:[x0/W,x1/W],range:xr,anchor:'y'+n,showgrid:false,zeroline:false,showticklabels:false,ticks:'',fixedrange:true},xo||{});
 layout['yaxis'+n]=Object.assign({domain:[1-y1/H,1-y0/H],range:yr,anchor:'x'+n,showgrid:false,zeroline:false,showticklabels:false,ticks:'',fixedrange:true},yo||{});
}
function T(x,y,text,size,o){o=o||{};layout.annotations.push({xref:'paper',yref:'paper',x:x/W,y:1-y/H,text:text,showarrow:false,borderpad:0,xanchor:o.anchor||'center',yanchor:o.v||'middle',textangle:o.angle||0,font:{family:FONT,size:size,color:o.color||'#000',weight:o.weight||'normal'}});}
function R(x0,y0,x1,y1,o){o=o||{};layout.shapes.push({type:'rect',xref:'paper',yref:'paper',x0:x0/W,x1:x1/W,y0:1-y0/H,y1:1-y1/H,fillcolor:o.fill||'rgba(0,0,0,0)',line:{color:o.line||'rgba(0,0,0,0)',width:o.w||0},layer:o.layer||'below'});}
function L(x0,y0,x1,y1,color,w,layer){layout.shapes.push({type:'line',xref:'paper',yref:'paper',x0:x0/W,x1:x1/W,y0:1-y0/H,y1:1-y1/H,line:{color:color,width:w},layer:layer||'above'});}
const tr=(n,o)=>data.push(Object.assign({xaxis:'x'+n,yaxis:'y'+n,hoverinfo:'skip',cliponaxis:false},o));
const OV=20; // full-page plane
ax(OV,0,0,W,H,[0,W],[H,0]);

// ---------- A
const gridMaj={showgrid:true,gridcolor:'#ececec',gridwidth:1.2};
const frame={showline:true,mirror:true,linecolor:'#333',linewidth:1};
ax(2,102,41,427,289,[-56.8,64.9],[-38.7,44],
 Object.assign({showticklabels:true,ticks:'outside',ticklen:3,tickcolor:'#333',tick0:0,dtick:30,tickfont:{size:10.2,color:'#333'},minor:{dtick:15,showgrid:true,gridcolor:'#f2f2f2',gridwidth:.8,ticks:''}},gridMaj,frame),
 Object.assign({showticklabels:true,ticks:'outside',ticklen:3,tickcolor:'#333',tick0:0,dtick:20,tickfont:{size:10.2,color:'#333'},minor:{dtick:10,showgrid:true,gridcolor:'#f2f2f2',gridwidth:.8,ticks:''}},gridMaj,frame));
tr(2,{type:'scatter',mode:'markers',x:xs(tsnePoints),y:ys(tsnePoints),marker:{color:'#000',size:5.2},cliponaxis:true});
tr(2,{type:'scatter',mode:'lines',x:[-56,64],y:[0,0],line:{color:'#ff3030',width:1.5,dash:'6px,3px'}});
tr(2,{type:'scatter',mode:'lines',x:[0,0],y:[-38.7,44],line:{color:'#0000ff',width:2.6,dash:'10px,6px'}});
T(102,26.5,'tSNEplot',14.8,{anchor:'left'});T(265,313,'tSNE1',12.2);T(68,166,'tSNE2',12.2,{angle:-90});

// ---------- B
const baseAxis={showline:true,mirror:true,linecolor:'#222',linewidth:1.2,showticklabels:true,ticks:'outside',ticklen:6,tickcolor:'#222',tickfont:{size:10.6,color:'#111'},ticklabelstandoff:3};
ax(3,70.3,360,233.3,565.7,[.21,20.76],[-.679,1.042],Object.assign({},baseAxis,{tickvals:[5,10,15,20]}),Object.assign({},baseAxis,{tickvals:[-.5,0,.5,1],ticktext:['−0.5','0.0','0.5','1.0'],tickangle:-90}));
ax(4,316,360,479,565.7,[.25,20.8],[-12.8,342.7],Object.assign({},baseAxis,{tickvals:[5,10,15,20]}),Object.assign({},baseAxis,{tickvals:[0,50,100,150,200,250,300],tickangle:-90}));
tr(3,{type:'scatter',mode:'text',x:powers,y:scaleFit,text:powers.map(String),textfont:{size:10,color:'#f4222a'}});
tr(3,{type:'scatter',mode:'lines',x:[.21,20.76],y:[.897,.897],line:{color:'#f00',width:1.2}});
tr(4,{type:'scatter',mode:'text',x:powers,y:meanConn,text:powers.map(String),textfont:{size:10,color:'#f4222a'}});
T(152,333,'Scale independence',12.9,{weight:'bold'});T(398,333,'Mean connectivity',12.9,{weight:'bold'});
T(152,613,'Soft Threshold (power)',10.9);T(398,613,'Soft Threshold (power)',10.9);
T(24,463,'Scale Free Topology Model Fit,signed R^2',10.8,{angle:-90});T(270,463,'Mean Connectivity',10.8,{angle:-90});

// ---------- C dendrogram
ax(5,580.9,50,1010,298.5,[322,1568],[.4687,1.0163],{},{showticklabels:true,ticks:'outside',ticklen:7,tickcolor:'#111',tickvals:[.5,.6,.7,.8,.9,1],ticktext:['0.5','0.6','0.7','0.8','0.9','1.0'],tickangle:-90,tickfont:{size:10.6},anchor:'free',position:564.7/W,ticklabelstandoff:2});
L(564.7,57.4,564.7,284.3,'#111',1);
{const dx=[],dy=[];dottedLeaf.forEach((v,i)=>{dx.push(v,v,null);dy.push(dottedTop[i],.469,null);});
 tr(5,{type:'scatter',mode:'lines',x:dx,y:dy,line:{color:'#444',width:.8,dash:'1px,3px'}});
 const sx=[],sy=[];dendroLeaf.forEach((v,i)=>{sx.push(v,v,null);sy.push(dendroTop[i],dendroBottom[i],null);});
 tr(5,{type:'scatter',mode:'lines',x:sx,y:sy,line:{color:'#000',width:1.5}});
 const fx=[],fy=[];for(let i=0;i<dendroHairs.length;i+=3){fx.push(dendroHairs[i],dendroHairs[i],null);fy.push(dendroHairs[i+1],dendroHairs[i+2],null);}
 tr(5,{type:'scatter',mode:'lines',x:fx,y:fy,line:{color:'#000',width:1.3}});
 const hx=[],hy=[];mergeFrom.forEach((v,i)=>{hx.push(v,mergeTo[i],null);hy.push(mergeHeightA[i],mergeHeightB[i],null);});
 tr(5,{type:'scatter',mode:'lines',x:hx,y:hy,line:{color:'#000',width:.9}});
 tr(5,{type:'scatter',mode:'lines',x:spineLeaf,y:spineHeight,line:{color:'#000',width:4.2,shape:'spline'}});
 [[massLeafA,massHeightA],[massLeafB,massHeightB],[massLeafC,massHeightC],[massLeafD,massHeightD],[massLeafE,massHeightE],[massLeafF,massHeightF]].forEach(m=>tr(5,{type:'scatter',mode:'lines',x:m[0],y:m[1],line:{color:'#000',width:1.8}}));
}
T(796,26,'Cluster Dendrogram',13.6,{weight:'bold'});T(512,173.4,'Height',11,{angle:-90});T(543.3,329.5,'Module colors',9.9);
ax(6,580.9,301.6,1010,356.7,[322,1568],[0,1]);
tr(6,{type:'heatmap',x:moduleEdges,y:[0,1],z:[moduleEdges.slice(1).map((_,i)=>i%2)],colorscale:[[0,'#BEBEBE'],[1,'#40E0D0']],zmin:0,zmax:1,showscale:false});
L(580.9,301.6,1010,301.6,'#333',1);L(580.9,356.7,1010,356.7,'#111',1.4);

// ---------- C heat
R(590.5,406.8,609.1,461.9,{fill:'#40E0D0'});R(590.5,461.9,609.1,515.9,{fill:'#BEBEBE'});
const corrScale=[[0,'#0080ff'],[.5,'#ffffff'],[1,'#ff3300']];
ax(7,610.8,407.6,958.3,515.1,[-.5,3.5],[1.5,-.5],{showline:true,mirror:true,linecolor:'#111',linewidth:1.4},{showline:true,mirror:true,linecolor:'#111',linewidth:1.4});
tr(7,{type:'heatmap',x:[0,1,2,3],y:[0,1],z:traitCorr,colorscale:corrScale,zmin:-1,zmax:1,showscale:false});
{const tx=[],ty=[],tt=[];traitCorr.forEach((r,i)=>r.forEach((_,j)=>{tx.push(j);ty.push(i);tt.push(traitCorrText[i][j]+'<br>'+traitPText[i][j]);}));
 tr(7,{type:'scatter',mode:'text',x:tx,y:ty,text:tt,textfont:{size:7.6,color:'#111'}});}
T(767,395.3,'Module−trait relationships',12.6,{weight:'bold'});
T(579.5,437.4,'turquoise',16,{anchor:'right'});T(581,489.9,'grey',16,{anchor:'right'});
[669,755.3,839,925.8].forEach((x,i)=>T(x,i===3?522:518.6,traitCols[i],12.8,{anchor:'right',v:'top',angle:-45}));
ax(8,963.5,414,972.8,509,[0,1],[-1,1],{},{side:'right',showline:true,linecolor:'#222',linewidth:1,mirror:true,showticklabels:true,ticks:'outside',ticklen:6,tickcolor:'#222',tickvals:[-1,-.5,0,.5,1],ticktext:['−1','−0.5','0','0.5','1'],tickfont:{size:15.5,color:'#111'}});
tr(8,{type:'heatmap',x:[0,1],y:corrLevels,z:corrLevels.map(v=>[v,v]),colorscale:corrScale,zmin:-1,zmax:1,showscale:false});

// ---------- D
const padjScale=[[0,'#EFA9B9'],[.5,'#DCD3DA'],[1,'#BBFFFF']];
ax(9,1228.3,64.3,1411.3,424.3,[-.0094,.2138],[9.583,-.606],
 Object.assign({showticklabels:true,ticks:'outside',ticklen:3,tickcolor:'#333',tickvals:[0,.05,.1,.15,.2],ticktext:['0.00','0.05','0.10','0.15','0.20'],tickfont:{size:9.6,color:'#222'},minor:{tickvals:[.025,.075,.125,.175],showgrid:true,gridcolor:'#f2f2f2',gridwidth:.8,ticks:''}},gridMaj,frame),
 Object.assign({showticklabels:true,ticks:'outside',ticklen:3,tickcolor:'#333',tickvals:[0,1,2,3,4,5,6,7,8,9],ticktext:pathways,tickfont:{size:9.4,color:'#444'}},gridMaj,frame));
tr(9,{type:'bar',orientation:'h',x:geneRatio,y:[0,1,2,3,4,5,6,7,8,9],width:.7,marker:{color:pAdjust,colorscale:padjScale,cmin:0,cmax:4.06,showscale:false,line:{color:'rgba(255,255,255,.45)',width:1}},cliponaxis:true});
tr(9,{type:'scatter',mode:'text',x:geneRatio.map(v=>v-.0128),y:[0,1,2,3,4,5,6,7,8,9],text:geneCount.map(String),textfont:{size:9.6,color:'#222'}});
T(1315,51.5,'KEGG Pathways Enrichment',13.3);T(1320,445,'GeneRatio',11.8);T(1036,244,'Pathways',11.8,{angle:-90});
T(1428,197,'p.adjust',11,{anchor:'left'});
ax(10,1428,207.7,1448,298.7,[0,1],[-.02,4.06],{},{side:'right',showticklabels:true,ticks:'inside',ticklen:4,tickcolor:'#fff',tickvals:[1,2,3,4],ticktext:['1e−11','2e−11','3e−11','4e−11'],tickfont:{size:9,color:'#222'}});
tr(10,{type:'heatmap',x:[0,1],y:padjLevels,z:padjLevels.map(v=>[v,v]),colorscale:padjScale,zmin:0,zmax:4.06,showscale:false});

// ---------- E
function edgeTrace(list,w){const x=[],y=[];list.forEach(e=>{x.push(enrichX[e[0]],enrichX[e[1]],null);y.push(enrichY[e[0]],enrichY[e[1]],null);});tr(OV,{type:'scatter',mode:'lines',x:x,y:y,line:{color:'#b7b7b7',width:w}});}
edgeTrace(edgesThin,1.6);edgeTrace(edgesMedium,2.4);edgeTrace(edgesThick,3.2);
tr(OV,{type:'scatter',mode:'markers',x:enrichX,y:enrichY,marker:{color:enrichColor,size:enrichSize,line:{color:'#000',width:1.1}}});
tr(OV,{type:'scatter',mode:'text',x:enrichLabelX,y:enrichLabelY,text:enrichTerms,textfont:{size:9.1,color:'#111'}});
R(1918.7,175.7,1933.5,229,{fill:'#f2f2f2'});
T(1944,168.7,'number of genes',7,{color:'#333'});
{const ly=[181.3,193.7,206.7,221.3];
 tr(OV,{type:'scatter',mode:'markers',x:[1926.2,1926.2,1926.2,1926.2],y:ly,marker:{color:'rgba(0,0,0,0)',size:geneLegendSize,line:{color:'#000',width:1}}});
 geneLegendCounts.forEach((t,i)=>T(1943,ly[i],t,6.6,{color:'#333'}));}
T(1918.5,248,'p.adjust',6.6,{anchor:'left',weight:'bold'});
ax(11,1918,254,1930.7,315,[0,1],[-.07,5.19],{},{side:'right',showticklabels:true,ticks:'inside',ticklen:3,tickcolor:'#fff',tickvals:padjEVals,ticktext:padjE,tickfont:{size:6.7,color:'#111'},ticklabelstandoff:0});
tr(11,{type:'heatmap',x:[0,1],y:padjELevels,z:padjELevels.map(v=>[v,v]),colorscale:[[0,'#ff0000'],[.5,'#b4008f'],[1,'#3a00ff']],zmin:0,zmax:5.2,showscale:false});

// ---------- F
ax(12,198.3,655.9,480.3,1002.9,[.008,13.99],[0,136.3],{},{showticklabels:true,ticks:'outside',ticklen:3,tickcolor:'#000',tickvals:[0,50,100],tickfont:{size:8.6,color:'#222'}});
tr(12,{type:'bar',x:upsetSize.map((_,i)=>i+1),y:upsetSize,width:.63,marker:{color:'#4682B4',line:{color:'#a9c6de',width:1}},text:upsetSize.map(String),textposition:'outside',textfont:{size:7,color:'#6a9bc9'},cliponaxis:false});
L(198.3,655.9,198.3,1018.5,'#000',1.2);L(198.3,1002.9,480.3,1002.9,'#000',1.6);
T(152,840.9,'Size of intersection',10,{angle:-90});
[[1006.6,1038.4],[1071.4,1103.9],[1136.5,1168.7]].forEach(s=>R(198.3,s[0],480.3,s[1],{fill:'#f6f6f6'}));
ax(13,198.3,1006.6,480.3,1168.7,[.008,13.99],[4.49,-.5]);
{const gx=[],gy=[],rx=[],ry=[],lx=[],ly=[];
 upsetSets.forEach((set,i)=>{for(let r=0;r<5;r++){if(set.includes(r)){rx.push(i+1);ry.push(r);}else{gx.push(i+1);gy.push(r);}}
  if(set.length>1){lx.push(i+1,i+1,null);ly.push(Math.min(...set),Math.max(...set),null);}});
 tr(13,{type:'scatter',mode:'markers',x:gx,y:gy,marker:{color:'#e6e6e6',size:7}});
 tr(13,{type:'scatter',mode:'lines',x:lx,y:ly,line:{color:'#b5202a',width:2}});
 tr(13,{type:'scatter',mode:'markers',x:rx,y:ry,marker:{color:'#b5202a',size:7}});}
ax(14,56,1006.6,198,1169.4,[183.3,-10.9],[4.49,-.5],{showline:true,linecolor:'#666',linewidth:2,showticklabels:true,ticks:'outside',ticklen:2,tickcolor:'#666',tickvals:[0,50,100,150],tickfont:{size:9,color:'#222'}});
tr(14,{type:'bar',orientation:'h',x:setTotals,y:[0,1,2,3,4],width:.56,marker:{color:'#FFF59D'},cliponaxis:true});
setNames.forEach((n,i)=>T(188.3,1022.9+i*32.49,n,8.9,{anchor:'right',color:'#111'}));
T(126,1190.5,'The number of each terms',10,{color:'#111'});

// ---------- G
function edges(nx,ny,cats,cat,hub,color,w){const x=[],y=[];nx.forEach((v,i)=>{if(cat.includes(cats[i])){x.push(v,hubX[hub],null);y.push(ny[i],hubY[hub],null);}});tr(OV,{type:'scatter',mode:'lines',x:x,y:y,line:{color:color,width:w}});}
const linkEdges=h=>{const x=[],y=[];linkX.forEach((v,i)=>{if(linkHubs[i].includes(h)){x.push(v,hubX[h],null);y.push(linkY[i],hubY[h],null);}});return [x,y];};
const kinCats=kinNames.map(()=>'k');
edges(catX,catY,catCat,'ab',3,catColors[3],2);
{const e=linkEdges(3);tr(OV,{type:'scatter',mode:'lines',x:e[0],y:e[1],line:{color:catColors[3],width:1.4}});}
edges(catX,catY,catCat,'b',2,'#ADA90F',2.1);
{const e=linkEdges(2);tr(OV,{type:'scatter',mode:'lines',x:e[0],y:e[1],line:{color:'#ADA90F',width:1.4}});}
edges(tubX,tubY,tubCat,'b',1,catColors[1],2.2);
{const e=linkEdges(1);tr(OV,{type:'scatter',mode:'lines',x:e[0],y:e[1],line:{color:catColors[1],width:1.4}});}
edges(tubX,tubY,tubCat,'tb',0,'#E07BF0',2.1);
{const e=linkEdges(0);tr(OV,{type:'scatter',mode:'lines',x:e[0],y:e[1],line:{color:'#E07BF0',width:1.6}});}
edges(kinX,kinY,kinCats,'k',4,'#1AB5F8',1.8);
{const e=linkEdges(4);tr(OV,{type:'scatter',mode:'lines',x:e[0],y:e[1],line:{color:'#2DBBFA',width:1.6}});}
const nodeX=[...tubX,...catX,...kinX,...linkX],nodeY=[...tubY,...catY,...kinY,...linkY];
tr(OV,{type:'scatter',mode:'markers',x:nodeX,y:nodeY,marker:{color:'#9BF59B',size:5.2}});
tr(OV,{type:'scatter',mode:'markers',x:hubX,y:hubY,marker:{color:'#E5BE8A',size:12}});
function labels(names,lx,ly,isGrey){const gi=names.map((_,i)=>i).filter(i=>isGrey(i)),bi=names.map((_,i)=>i).filter(i=>!isGrey(i));
 tr(OV,{type:'scatter',mode:'text',x:gi.map(i=>lx[i]),y:gi.map(i=>ly[i]),text:gi.map(i=>names[i]),textfont:{size:4.3,color:'#777'}});
 tr(OV,{type:'scatter',mode:'text',x:bi.map(i=>lx[i]),y:bi.map(i=>ly[i]),text:bi.map(i=>names[i]),textfont:{size:4.3,color:'#000',weight:'bold'}});}
labels(tubNames,tubLX,tubLY,i=>tubCat[i]==='t');
labels(catNames,catLX,catLY,i=>catCat[i]==='a');
labels(kinNames,kinLX,kinLY,i=>kinGrey.includes(i));
labels(linkNames,linkLX,linkLY,i=>i===3);
tr(OV,{type:'scatter',mode:'text',x:hubLabelX,y:hubLabelY,text:hubNames,textfont:{size:7.8,color:'#000'}});
T(1210,862,'size',11.8,{anchor:'left',color:'#222'});T(1210,964,'category',11.8,{anchor:'left',color:'#222'});
{const yy=[883.3,902.3,921.3,940.3];
 tr(OV,{type:'scatter',mode:'markers',x:[1219.3,1219.3,1219.3,1219.3],y:yy,marker:{color:'#000',size:legendSizePx}});
 legendSizes.forEach((t,i)=>T(1235,yy[i],t,10,{anchor:'left',color:'#333'}));
 const cy=[985,1004,1022.7,1041.7,1060.7];
 legendCatNames.forEach((t,i)=>{L(1212,cy[i],1228,cy[i],legendCatColors[i],i<2?2.4:1.5);T(1235,cy[i],t,9.9,{anchor:'left',color:i<2?'#000':'#333'});});}

// ---------- H, I
function ring(n,arr,color){const a=arr.concat(arr.slice(0,2));
 const m=color.match(/\w\w/g).map(h=>parseInt(h,16));
 tr(n,{type:'scatter',mode:'lines',x:xs(a),y:ys(a),fill:'toself',fillcolor:`rgba(${m[0]},${m[1]},${m[2]},.1)`,line:{color:color,width:1.2,shape:'spline',smoothing:1}});}
function pts(n,arr,color,sym,size,op){tr(n,{type:'scatter',mode:'markers',x:xs(arr),y:ys(arr),marker:{color:color,symbol:sym,size:size,opacity:op,line:{color:color,width:sym==='cross-thin'?1.1:0}}});}
const pcaX=(f)=>Object.assign({showticklabels:true,ticks:'outside',ticklen:2,tickcolor:'#333',tick0:0,dtick:100,tickfont:{size:f,color:'#222'},minor:{dtick:50,showgrid:true,gridcolor:'#f1f1f1',gridwidth:.9,ticks:''}},gridMaj);
ax(15,1468.6,502.3,1856.7,827.3,[-194.8,139.7],[-126.6,284.8],pcaX(7),pcaX(7));
[[ringSalmon,0],[ringGold,1],[ringGreenH,2],[ringCyanH,3],[ringBlueH,4],[ringMagentaH,5]].forEach(r=>ring(15,r[0],colorH[r[1]]));
const tail=a=>a.filter((_,i)=>i%4<2); // the sparser half of a cloud
pts(15,cloudCircle,'#C8877E','circle',4.5,.9);pts(15,cloudTriangle,'#B0A040','triangle-up',5,.9);pts(15,cloudSquare,'#3DA870','square',4.5,.9);pts(15,cloudDense,'#3DA880','square',4.5,.9);pts(15,cloudCross,'#2AA8AE','cross-thin',5.5,.95);pts(15,tail(cloudDense),'#2AA8AE','cross-thin',5.5,.95);pts(15,cloudBlue,'#6C9BE8','square',5,.85);pts(15,cloudCore,'#C37BC4','octagon',5.6,.95);pts(15,cloudCentre,'#C37BC4','octagon',5.6,.95);
outH.forEach((o,i)=>pts(15,o,colorH[i],symbolH[i],i===3?5.5:i===5||i===4?5:3.8,1));
function cross(n,a,b,c,d){tr(n,{type:'scatter',mode:'lines',x:[a,b],y:[0,0],line:{color:'#000',width:1,dash:'4px,2.5px'}});tr(n,{type:'scatter',mode:'lines',x:[0,0],y:[c,d],line:{color:'#222',width:1,dash:'3px,2px'}});}
cross(15,-194.8,139.7,-126.6,284.8);
tr(15,{type:'scatter',mode:'lines',x:[-85,65,null,0,0],y:[0,0,null,-65,60],line:{color:'#000',width:2.4,dash:'5px,2.5px'}});
tr(15,{type:'scatter',mode:'markers',x:[0],y:[0],marker:{color:'#F564E3',size:6,symbol:'square'}});
T(1468.6,492.7,'Individuals − PCA',9.9,{anchor:'left'});T(1662.8,842.7,'Dim1 (9.8%)',8.3);T(1443,663,'Dim2 (8.4%)',8.3,{angle:-90});
function legend(title,names,colors,syms,x,tx,yTitle,rows,box,fsT,fs,ms){T(x,yTitle,title,fsT,{anchor:'left'});
 rows.forEach((y,i)=>{const m=colors[i].match(/\w\w/g).map(h=>parseInt(h,16));R(x,y-box/2,x+box,y+box/2,{fill:`rgba(${m[0]},${m[1]},${m[2]},.08)`,line:`rgba(${m[0]},${m[1]},${m[2]},.75)`,w:1.2});
  T(tx,y,names[i],fs,{anchor:'left',color:'#333'});});
 rows.forEach((y,i)=>tr(OV,{type:'scatter',mode:'markers',x:[x+box/2],y:[y],marker:{color:colors[i],symbol:syms[i],size:ms,line:{color:colors[i],width:syms[i]==='cross-thin'?1.4:0}}}));}
legend('Groups',groupH,colorH,symbolH,1869.4,1886.6,623.3,[638.3,651.3,664.7,678,691.3,704.7],12.5,8.5,6.8,7);
ax(16,1478.9,862.7,1856.7,1268.3,[-187.2,140.4],[-127.2,291.1],pcaX(8),pcaX(8));
[[ringSalmon,0],[ringGold,1],[ringGreenI,2],[ringMagentaI,4],[ringCyanI,3]].forEach(r=>ring(16,r[0],colorI[r[1]]));
pts(16,cloudTriangle,'#A8A528','triangle-up',6,.9);pts(16,cloudSquare,'#19B184','square',5.2,.9);pts(16,tail(cloudDense),'#19B184','square',5.2,.9);pts(16,cloudBlue,'#C57DD8','square',5.6,.9);pts(16,cloudCircle,'#C8847A','circle',5.4,.9);pts(16,cloudCore,'#C8847A','circle',5.4,.9);pts(16,tail(cloudCentre),'#C8847A','circle',5.4,.9);pts(16,cloudCross,'#22A6D6','cross-thin',6.5,1);pts(16,cloudDense.filter((_,i)=>i%4>1),'#22A6D6','cross-thin',6.5,1);pts(16,cloudCentre.filter((_,i)=>i%4>1),'#22A6D6','cross-thin',6.5,1);
outI.forEach((o,i)=>pts(16,o,colorI[i],['circle','triangle-up','square','cross-thin','square'][i],i===3?6.5:i===4?5.5:4.2,1));
cross(16,-187.2,140.4,-127.2,291.1);
tr(16,{type:'scatter',mode:'lines',x:[-100,90,null,0,0],y:[0,0,null,-105,105],line:{color:'#000',width:2.8,dash:'6px,2.5px'}});
tr(16,{type:'scatter',mode:'markers',x:[0],y:[0],marker:{color:'#E76BF3',size:7,symbol:'square'}});
T(1478.9,851,'Individuals − PCA',11.2,{anchor:'left'});T(1668,1286.3,'Dim1 (9.8%)',9.4);T(1449.6,1065,'Dim2 (8.7%)',9.4,{angle:-90});
legend('Groups',groupH.slice(0,5),colorI,['circle','triangle-up','square','cross-thin','square'],1871.5,1891.4,1025.3,[1042.3,1057.7,1073,1088.3,1103.7],15,9.6,7.8,8);

// ---------- letters
[['A',6,9],['B',6,299],['C',473,10],['D',1049,10],['E',1463,10],['F',6,640],['G',528,641],['H',1402,490],['I',1399,872]].forEach(l=>T(l[1],l[2],l[0],16.5));

Plotly.newPlot('c',data,layout,{staticPlot:true,displayModeBar:false});
</script></body></html>
